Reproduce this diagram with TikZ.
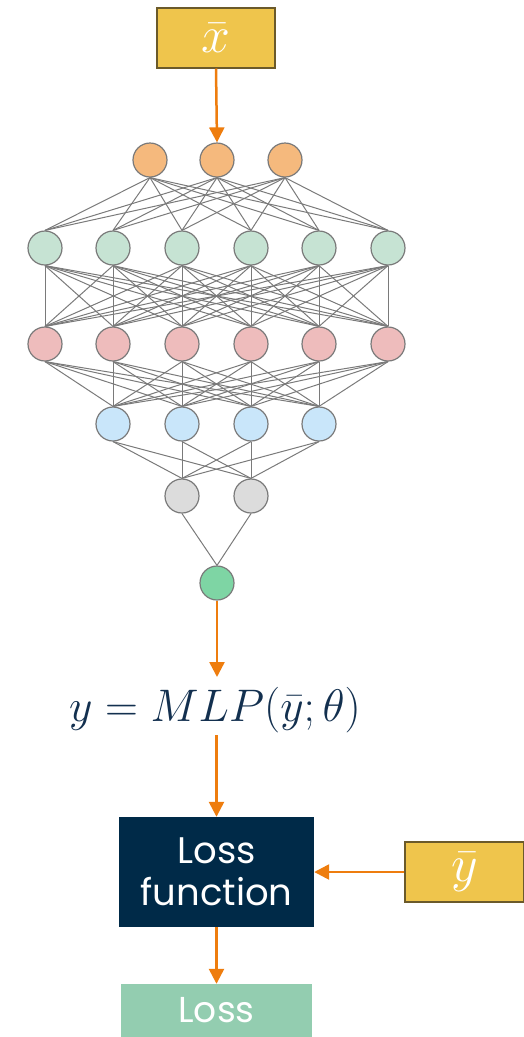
\documentclass[tikz,border=0pt]{standalone}
\usepackage{graphicx}
\usepackage{fontspec}
\newfontfamily\pop{Poppins}
\usetikzlibrary{arrows.meta}
\definecolor{gold}{HTML}{EFC54C}
\definecolor{goldborder}{HTML}{6B5A2A}
\definecolor{arrowor}{HTML}{EE7D0E}
\definecolor{inC}{HTML}{F5B97D}
\definecolor{gC}{HTML}{C6E3D3}
\definecolor{pC}{HTML}{EEBCBC}
\definecolor{bC}{HTML}{C9E6FA}
\definecolor{grC}{HTML}{DCDCDC}
\definecolor{oC}{HTML}{7ED5A4}
\definecolor{navy}{HTML}{002A48}
\definecolor{eqC}{HTML}{13304F}
\definecolor{lossC}{HTML}{93CDB0}
\definecolor{edgeC}{HTML}{7A7A7A}
\begin{document}
\begin{tikzpicture}[x=1pt,y=-1pt,
  neuron/.style={circle,draw=edgeC,line width=1.2pt,minimum size=34pt,inner sep=0pt},
  conn/.style={draw=edgeC,line width=1pt},
  flow/.style={draw=arrowor,line width=2.5pt,-{Triangle[length=15pt,width=15pt]}},
  goldbox/.style={draw=goldborder,fill=gold,line width=2pt,text=white,inner sep=0pt}
]
\useasboundingbox (0,0) rectangle (523,1037);

% top input box
\node[goldbox,minimum width=118pt,minimum height=60pt] (xbar) at (216,37.5) {\scalebox{2.5}{\fontsize{20}{24}\selectfont$\bar{x}$}};

% layers
\foreach \i/\x in {1/150,2/217,3/285} \node[neuron,fill=inC] (a\i) at (\x,160) {};
\foreach \i/\x in {1/45,2/113,3/182,4/251,5/319,6/388} \node[neuron,fill=gC] (b\i) at (\x,248) {};
\foreach \i/\x in {1/45,2/113,3/182,4/251,5/319,6/388} \node[neuron,fill=pC] (c\i) at (\x,344) {};
\foreach \i/\x in {1/113,2/182,3/251,4/319} \node[neuron,fill=bC] (d\i) at (\x,424) {};
\foreach \i/\x in {1/182,2/251} \node[neuron,fill=grC] (e\i) at (\x,496) {};
\node[neuron,fill=oC] (out) at (217,583) {};

% connections
\foreach \i in {1,2,3} \foreach \j in {1,...,6} \path[conn] (a\i.south) -- (b\j.north);
\foreach \i in {1,...,6} \foreach \j in {1,...,6} \path[conn] (b\i.south) -- (c\j.north);
\foreach \i in {1,...,6} \foreach \j in {1,...,4} \path[conn] (c\i.south) -- (d\j.north);
\foreach \i in {1,...,4} \foreach \j in {1,2} \path[conn] (d\i.south) -- (e\j.north);
\foreach \i in {1,2} \path[conn] (e\i.south) -- (out.north);

% equation
\node[text=eqC,inner sep=0pt] (eq) at (215,710) {\scalebox{2.2}{\fontsize{20}{24}\selectfont$y = MLP(\bar{y};\theta)$}};

% loss function
\node[fill=navy,text=white,minimum width=195pt,minimum height=110pt,inner sep=0pt,align=center,font=\pop\fontsize{37}{42}\selectfont] (lf) at (216.5,872) {Loss\\function};
\node[goldbox,anchor=west,minimum width=119pt,minimum height=60pt] (ybar) at (404,872) {\scalebox{2.5}{\fontsize{20}{24}\selectfont$\bar{y}$}};
\node[fill=lossC,text=white,minimum width=191pt,minimum height=53pt,inner sep=0pt,font=\pop\fontsize{36}{42}\selectfont] (loss) at (216.5,1010.5) {Loss};

% arrows
\coordinate (eqtop) at (217,677);
\coordinate (eqbot) at (216.5,735);
\draw[flow] (xbar.south) -- (a2.north);
\draw[flow] (out.south) -- (eqtop);
\draw[flow] (eqbot) -- (lf.north);
\draw[flow] (ybar.west) -- (lf.east);
\draw[flow] (lf.south) -- (loss.north);
\end{tikzpicture}
\end{document}
